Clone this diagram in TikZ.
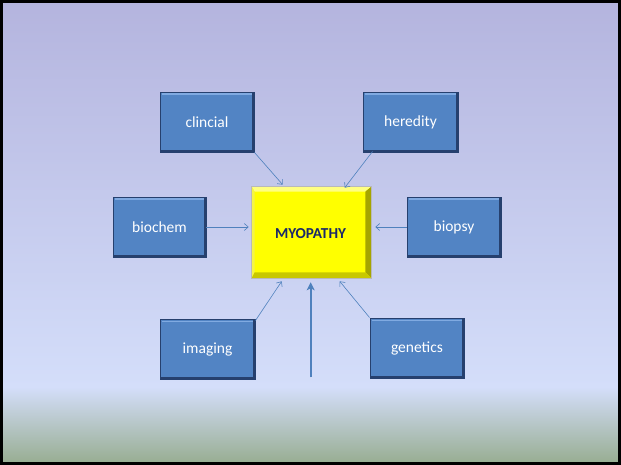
\documentclass[tikz,border=0pt]{standalone}
\usepackage{fontspec}
\setmainfont{Carlito}
\usetikzlibrary{arrows.meta,calc}
\definecolor{bgtop}{RGB}{180,180,222}
\definecolor{bgmid}{RGB}{212,222,250}
\definecolor{bgbot}{RGB}{150,172,143}
\definecolor{boxblue}{RGB}{82,132,196}
\definecolor{boxdark}{RGB}{38,64,110}
\definecolor{boxhi}{RGB}{128,170,225}
\definecolor{arrowblue}{RGB}{79,129,189}
\definecolor{navytext}{RGB}{25,40,105}
\definecolor{yelmain}{RGB}{255,255,0}
\definecolor{yeltop}{RGB}{255,255,130}
\definecolor{yelleft}{RGB}{245,245,70}
\definecolor{yelright}{RGB}{165,165,0}
\definecolor{yelbot}{RGB}{200,200,0}
\begin{document}
\begin{tikzpicture}[x=1pt,y=-1pt,
  bbox/.style={rectangle, fill=boxblue, draw=boxdark, line width=0.9pt,
    minimum width=94pt, minimum height=60pt, inner sep=0pt, text=white,
    font=\fontsize{15.5}{18}\selectfont,
    path picture={
      \fill[boxhi] ([xshift=1.5pt,yshift=-1.5pt]path picture bounding box.north west) rectangle ([xshift=-2.5pt,yshift=-3.2pt]path picture bounding box.north east);
      \fill[boxdark] ([xshift=-2.4pt]path picture bounding box.north east) rectangle (path picture bounding box.south east);
      \fill[boxdark] ([yshift=2.4pt]path picture bounding box.south west) rectangle (path picture bounding box.south east);
    }},
  ybox/.style={rectangle, fill=yelmain, draw=gray!55, line width=0.6pt,
    minimum width=119pt, minimum height=91pt, inner sep=0pt},
  ytext/.style={font=\fontsize{15.2}{18}\selectfont\bfseries, text=navytext},
  thinarrow/.style={draw=arrowblue, line width=0.6pt, -{Straight Barb[length=4pt,width=7pt]}},
  thickarrow/.style={draw=arrowblue, line width=1.8pt, -{Stealth[length=8pt,width=8pt,inset=2pt]}}
]
\useasboundingbox (0,0) rectangle (621,465);
% background
\shade[top color=bgtop, bottom color=bgmid] (0,0) rectangle (621,387.5);
\shade[top color=bgmid, bottom color=bgbot] (0,387) rectangle (621,465);
\draw[black, line width=3pt] (1.5,1.5) rectangle (619.5,463.5);

% central box
\node[ybox] (myo) at (311.5,232.5) {};
\fill[yeltop] (myo.north west) -- (myo.north east) -- ($(myo.north east)+(-6,5)$) -- ($(myo.north west)+(3,5)$) -- cycle;
\fill[yelleft] (myo.north west) -- ($(myo.north west)+(3,5)$) -- ($(myo.south west)+(3,-6)$) -- (myo.south west) -- cycle;
\fill[yelright] (myo.north east) -- (myo.south east) -- ($(myo.south east)+(-6,-6)$) -- ($(myo.north east)+(-6,5)$) -- cycle;
\fill[yelbot] (myo.south west) -- (myo.south east) -- ($(myo.south east)+(-6,-6)$) -- ($(myo.south west)+(3,-6)$) -- cycle;
\draw[gray!55, line width=0.6pt] (myo.north west) rectangle (myo.south east);
\node[ytext] (myolabel) at (310.5,234) {MYOPATHY};

% outer boxes
\node[bbox] (clin) at (207,122) {clincial};
\node[bbox, minimum width=95pt] (her) at (410.5,122) {heredity};
\node[bbox, minimum width=93pt] (bioc) at (159.5,227) {biochem};
\node[bbox] (biop) at (454,227) {biopsy};
\node[bbox, minimum width=95pt] (img) at (207.5,349) {imaging};
\node[bbox] (gen) at (417,348) {genetics};

% target coordinates on the central box
\coordinate (tclin) at ($(myo.north west)+(31,-2)$);
\coordinate (ther) at ($(myo.north west)+(93,1)$);
\coordinate (tbioc) at ($(myo.west)+(-3,-5.5)$);
\coordinate (tbiop) at ($(myo.east)+(4,-5.5)$);
\coordinate (timg) at ($(myo.south west)+(30,3)$);
\coordinate (tgen) at ($(myo.south west)+(88,3)$);
\coordinate (tcen) at ($(myo.south west)+(59,4)$);
\coordinate (bcen) at ($(myo.south west)+(59,99)$);

\draw[thinarrow] (clin.south east) -- (tclin);
\draw[thinarrow] ($(her.south west)+(10,-1)$) -- (ther);
\draw[thinarrow] (bioc.east) -- (tbioc);
\draw[thinarrow] (biop.west) -- (tbiop);
\draw[thinarrow] ($(img.north east)+(0,2)$) -- (timg);
\draw[thinarrow] (gen.north west) -- (tgen);
\draw[thickarrow] (bcen) -- (tcen);
\end{tikzpicture}
\end{document}
